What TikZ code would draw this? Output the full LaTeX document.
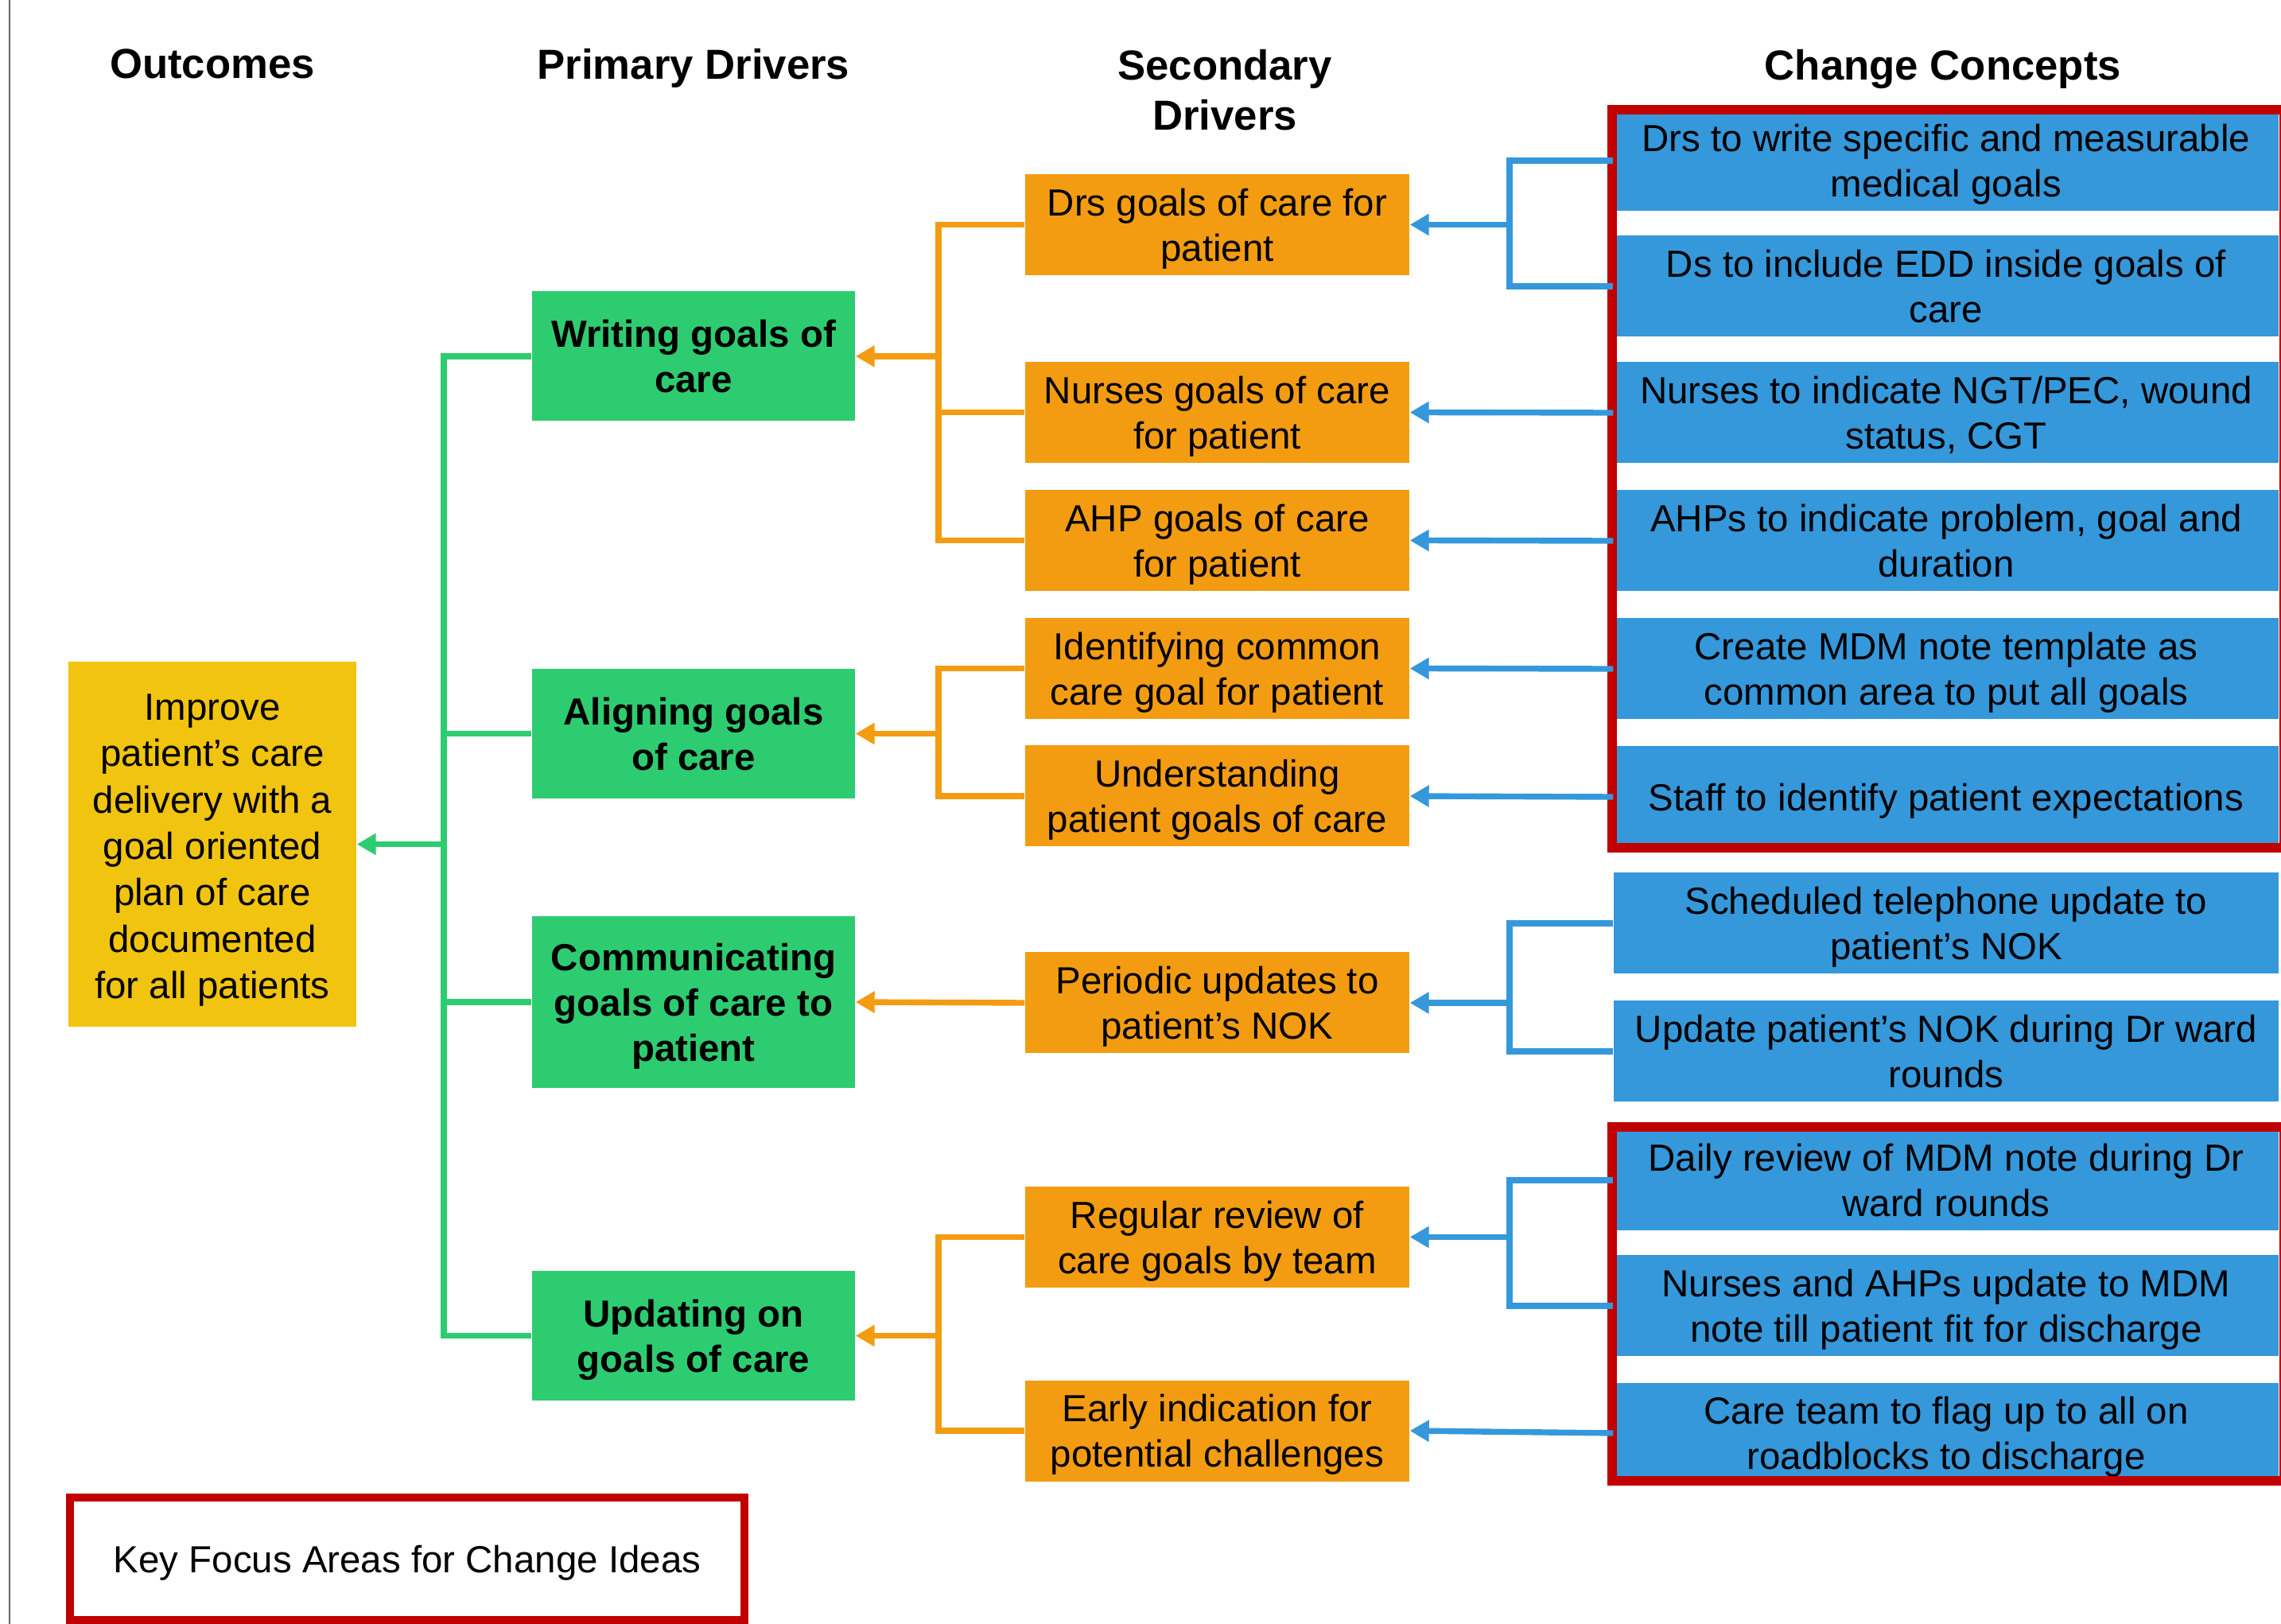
\documentclass[tikz,border=0pt]{standalone}
\usepackage{fontspec}
\setmainfont{Liberation Sans}
\usepackage{xcolor}
\usetikzlibrary{arrows.meta}

\definecolor{outyel}{HTML}{F1C40F}
\definecolor{prigrn}{HTML}{2ECC71}
\definecolor{secorg}{HTML}{F39C12}
\definecolor{chgblu}{HTML}{3498DB}
\definecolor{keyred}{HTML}{C00000}

\begin{document}
\begin{tikzpicture}[
  font=\fontsize{13.5}{16.2}\selectfont, >={Triangle[length=2.4mm,width=2.6mm]},
  box/.style={inner sep=2pt, align=center, text height=29pt, text depth=3pt},
  one/.style={text height=13pt},
  hdr/.style={font=\fontsize{15}{18}\selectfont\bfseries, align=center},
  outc/.style={box, fill=outyel, font=\fontsize{13.5}{16.6}\selectfont, text height=113.5pt, minimum width=36.2mm, minimum height=45.9mm},
  prim/.style={box, fill=prigrn, font=\fontsize{13.5}{16.2}\selectfont\bfseries, minimum width=40.6mm, minimum height=16.3mm},
  sec/.style={box, fill=secorg, minimum width=48.3mm, minimum height=12.7mm},
  chg/.style={box, fill=chgblu, minimum width=83.6mm, minimum height=12.7mm},
  gl/.style={draw=prigrn, line width=2.1pt},
  ol/.style={draw=secorg, line width=2.1pt},
  bl/.style={draw=chgblu, line width=2.1pt},
  keyframe/.style={draw=keyred, line width=3.4pt}]
  \useasboundingbox (0,0) rectangle (28.68,-20.42);
  \draw[black!60, line width=0.6pt] (0.12,0) -- (0.12,-20.42);
  \node[hdr] (h1) at (2.67,-0.80) {Outcomes};
  \node[hdr] (h2) at (8.72,-0.855) {Primary Drivers};
  \node[hdr] (h3) at (15.40,-1.13) {Secondary\\Drivers};
  \node[hdr] (h4) at (24.43,-0.875) {Change Concepts};
  \node[outc] (out) at (2.67,-10.615) {Improve\\patient’s care\\delivery with a\\goal oriented\\plan of care\\documented\\for all patients};
  \node[prim] (pw) at (8.72,-4.48) {Writing goals of\\care};
  \node[prim] (pa) at (8.72,-9.225) {Aligning goals\\of care};
  \node[prim, text height=45.3pt, minimum height=21.6mm] (pc) at (8.72,-12.60) {Communicating\\goals of care to\\patient};
  \node[prim] (pu) at (8.72,-16.795) {Updating on\\goals of care};
  \node[sec] (sd) at (15.305,-2.825) {Drs goals of care for\\patient};
  \node[sec] (sn) at (15.305,-5.185) {Nurses goals of care\\for patient};
  \node[sec] (sa) at (15.305,-6.795) {AHP goals of care\\for patient};
  \node[sec] (si) at (15.305,-8.405) {Identifying common\\care goal for patient};
  \node[sec] (su) at (15.305,-10.01) {Understanding\\patient goals of care};
  \node[sec] (sp) at (15.305,-12.61) {Periodic updates to\\patient’s NOK};
  \node[sec] (sr) at (15.305,-15.555) {Regular review of\\care goals by team};
  \node[sec] (se) at (15.305,-17.99) {Early indication for\\potential challenges};
  \node[chg] (c1) at (24.47,-2.02) {Drs to write specific and measurable\\medical goals};
  \node[chg] (c2) at (24.47,-3.60) {Ds to include EDD inside goals of\\care};
  \node[chg] (c3) at (24.47,-5.19) {Nurses to indicate NGT/PEC, wound\\status, CGT};
  \node[chg] (c4) at (24.47,-6.80) {AHPs to indicate problem, goal and\\duration};
  \node[chg] (c5) at (24.47,-8.41) {Create MDM note template as\\common area to put all goals};
  \node[chg, one] (c6) at (24.47,-10.02) {Staff to identify patient expectations};
  \node[chg] (c7) at (24.47,-11.61) {Scheduled telephone update to\\patient’s NOK};
  \node[chg] (c8) at (24.47,-13.22) {Update patient’s NOK during Dr ward\\rounds};
  \node[chg] (c9) at (24.47,-14.84) {Daily review of MDM note during Dr\\ward rounds};
  \node[chg] (c10) at (24.47,-16.42) {Nurses and AHPs update to MDM\\note till patient fit for discharge};
  \node[chg] (c11) at (24.47,-18.02) {Care team to flag up to all on\\roadblocks to discharge};
  \draw[keyframe] (20.27,-1.38) rectangle (28.72,-10.66);
  \draw[keyframe] (20.27,-14.17) rectangle (28.72,-18.62);
  \node[box, one, draw=keyred, line width=2.8pt, minimum width=84.8mm, minimum height=15.4mm] (key) at (5.12,-19.60) {Key Focus Areas for Change Ideas};
  \coordinate (jg) at (out.east -| 5.58,0);
  \coordinate (jo1) at (pw.east -| 11.80,0);
  \coordinate (jo2) at (pa.east -| 11.80,0);
  \coordinate (jo4) at (pu.east -| 11.80,0);
  \coordinate (jb1) at (sd.east -| 18.98,0);
  \coordinate (jb7) at (sp.east -| 18.98,0);
  \coordinate (jb8) at (sr.east -| 18.98,0);
  \draw[gl] (pw.west) -| (jg) |- (pu.west);
  \draw[gl] (pa.west) -- (pa.west -| jg);
  \draw[gl] (pc.west) -- (pc.west -| jg);
  \draw[gl, ->] (jg) -- (out.east);
  \draw[ol] (sd.west) -| (jo1) |- (sa.west);
  \draw[ol] (sn.west) -- (sn.west -| jo1);
  \draw[ol, ->] (jo1) -- (pw.east);
  \draw[ol] (si.west) -| (jo2) |- (su.west);
  \draw[ol, ->] (jo2) -- (pa.east);
  \draw[ol, ->] (sp.west) -- (pc.east);
  \draw[ol] (sr.west) -| (jo4) |- (se.west);
  \draw[ol, ->] (jo4) -- (pu.east);
  \draw[bl] (c1.west) -| (jb1) |- (c2.west);
  \draw[bl, ->] (jb1) -- (sd.east);
  \draw[bl, ->] (c3.west) -- (sn.east);
  \draw[bl, ->] (c4.west) -- (sa.east);
  \draw[bl, ->] (c5.west) -- (si.east);
  \draw[bl, ->] (c6.west) -- (su.east);
  \draw[bl] (c7.west) -| (jb7) |- (c8.west);
  \draw[bl, ->] (jb7) -- (sp.east);
  \draw[bl] (c9.west) -| (jb8) |- (c10.west);
  \draw[bl, ->] (jb8) -- (sr.east);
  \draw[bl, ->] (c11.west) -- (se.east);
\end{tikzpicture}
\end{document}
